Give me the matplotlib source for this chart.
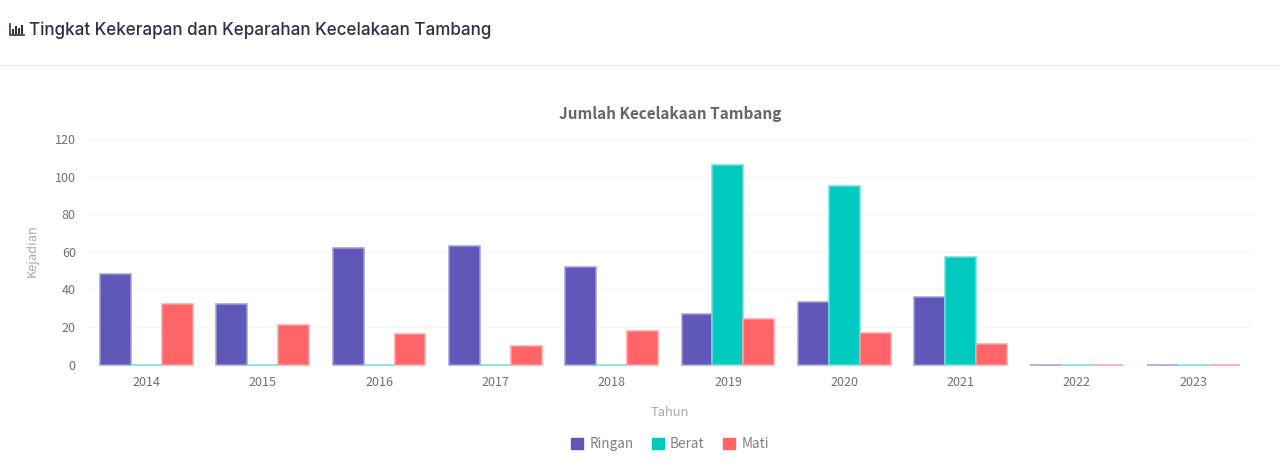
import matplotlib
matplotlib.use("Agg")
import matplotlib.pyplot as plt
import numpy as np
from matplotlib.lines import Line2D
from matplotlib.patches import Rectangle

years = ["2014", "2015", "2016", "2017", "2018", "2019", "2020", "2021", "2022", "2023"]
ringan = [48, 32, 62, 63, 52, 27, 33, 36, 0, 0]
berat = [0, 0, 0, 0, 0, 106, 95, 57, 0, 0]
mati = [32, 21, 16, 10, 18, 24, 17, 11, 0, 0]
y_ticks = [0, 20, 40, 60, 80, 100, 120]

W, H = 1280, 468
plt.rcParams["font.family"] = ["Noto Sans CJK SC", "DejaVu Sans"]

fig = plt.figure(figsize=(W / 100, H / 100), dpi=100, facecolor="white")
ax = fig.add_axes([88.3 / W, 1 - 364.5 / H, 1163 / W, (364.5 - 139) / H])

x = np.arange(len(years))
bw = 0.266
for off, vals, col, edge in [(-1, ringan, "#6058b8", "#a09bd8"),
                             (0, berat, "#00c9c0", "#70dfda"),
                             (1, mati, "#ff6468", "#ffa0a2")]:
    ax.bar(x + off * bw, vals, bw, color=col, edgecolor=edge, linewidth=1.1, zorder=3, clip_on=False)

ax.set_xlim(-0.5, len(years) - 0.5)
ax.set_ylim(0, 120)
ax.set_xticks(x, years)
ax.set_yticks(y_ticks)
ax.tick_params(length=0, labelsize=9, labelcolor="#707070")
ax.tick_params(axis="x", pad=8.5)
ax.tick_params(axis="y", pad=9)
ax.grid(axis="y", color="#f5f5f5", linewidth=1, zorder=0)
ax.set_axisbelow(True)
for s in ax.spines.values():
    s.set_visible(False)

fig.text(670 / W, 1 - 114 / H, "Jumlah Kecelakaan Tambang", ha="center", va="center",
         fontsize=11, fontweight="bold", color="#666666")
fig.text(670 / W, 1 - 412.5 / H, "Tahun", ha="center", va="center", fontsize=9.3, color="#aaaaaa")
fig.text(32 / W, 1 - 251 / H, "Kejadian", ha="center", va="center", rotation=90,
         fontsize=9.3, color="#aaaaaa")

# page header
fig.text(29 / W, 1 - 30 / H, "Tingkat Kekerapan dan Keparahan Kecelakaan Tambang", ha="left", va="center",
         fontsize=12.25, fontweight="medium", family=["Inter", "DejaVu Sans"], color="#2e2e48")
fig.add_artist(Line2D([0, 1], [1 - 64.5 / H] * 2, color="#efefef", linewidth=1))

# chart icon in the header
icon = "#2e2e48"
fig.add_artist(Line2D([9.5 / W, 9.5 / W, 24 / W], [1 - 24 / H, 1 - 35 / H, 1 - 35 / H], color=icon, linewidth=1.2))
for bx, top in [(12, 29), (15, 26), (18, 28), (21, 25)]:
    fig.add_artist(Rectangle((bx / W, 1 - 33.5 / H), 1.6 / W, (33.5 - top) / H, color=icon, linewidth=0))

# legend
handles = [Rectangle((0, 0), 1, 1, color=c) for c in ["#6058b8", "#00c9c0", "#ff6468"]]
fig.legend(handles, ["Ringan", "Berat", "Mati"], loc="center", bbox_to_anchor=(670 / W, 1 - 444 / H),
           ncol=3, frameon=False, fontsize=9.8, labelcolor="#808080", handlelength=0.88, handleheight=0.88,
           handletextpad=0.45, columnspacing=1.35)

fig.savefig("out.png", dpi=100)
